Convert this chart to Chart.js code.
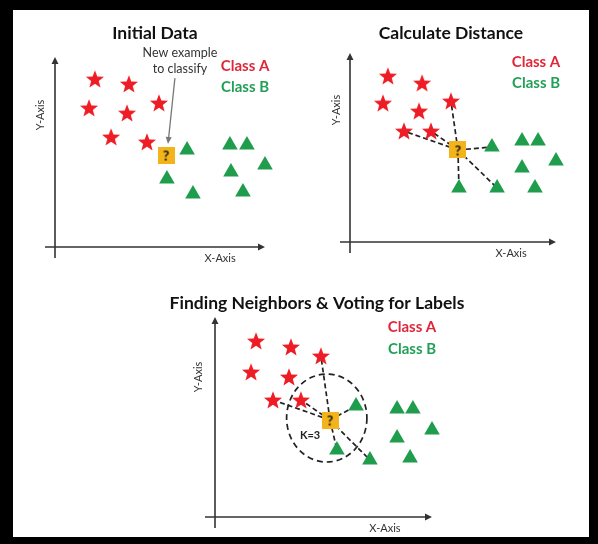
<!DOCTYPE html>
<html>
<head>
<meta charset="utf-8">
<script src="https://cdn.jsdelivr.net/npm/chart.js@4.4.0/dist/chart.umd.min.js"></script>
<style>
    body { margin: 0; background: #000; width: 598px; height: 544px; position: relative; overflow: hidden; }
    #sheet { position: absolute; left: 13px; top: 10px; width: 576px; height: 527px; background: #fff; }
    canvas { position: absolute; }
</style>
</head>
<body>
<div id="sheet">
    <canvas id="initialChart" width="285" height="265" style="left:0;top:0"></canvas>
    <canvas id="distanceChart" width="291" height="265" style="left:285px;top:0"></canvas>
    <canvas id="votingChart" width="576" height="262" style="left:0;top:265px"></canvas>
</div>
<script>
// Panel 1 - Initial Data (x, y on a 0..10 grid)
const initialStars = [[1.90, 8.84], [3.52, 8.58], [1.62, 7.32], [3.43, 7.05], [4.95, 7.58], [2.67, 5.79], [4.38, 5.53]];
const initialTriangles = [[6.29, 5.11], [5.33, 3.58], [6.57, 2.79], [8.33, 5.37], [9.14, 5.37], [10.0, 4.32], [8.38, 3.95], [8.95, 2.89]];
const initialNew = [5.29, 4.84];

// Panel 2 - Calculate Distance
const distanceStars = [[1.84, 8.78], [3.50, 8.41], [1.60, 7.35], [3.35, 6.93], [4.90, 7.46], [2.62, 5.87], [3.93, 5.87]];
const distanceTriangles = [[6.89, 5.03], [8.35, 5.34], [9.13, 5.34], [10.0, 4.29], [8.35, 3.92], [5.29, 2.86], [7.14, 2.86], [8.98, 2.86]];
const distanceNew = [5.24, 4.87];
const distanceStarLinks = [4, 5, 6];
const distanceTriangleLinks = [0, 5, 6];

// Panel 3 - Finding Neighbors & Voting for Labels
const votingStars = [[1.89, 8.80], [3.50, 8.50], [4.88, 8.05], [1.66, 7.25], [3.41, 7.00], [2.67, 5.85], [3.96, 5.85]];
const votingTriangles = [[6.50, 5.55], [8.39, 5.40], [9.12, 5.40], [10.0, 4.35], [8.39, 3.95], [5.62, 3.35], [7.14, 2.85], [8.99, 2.95]];
const votingNew = [5.30, 4.85];
const votingStarLinks = [2, 5, 6];
const votingTriangleLinks = [0, 5, 6];
const kValue = 3;

const classLabels = ["Class A", "Class B"];
const panelTitles = ["Initial Data", "Calculate Distance", "Finding Neighbors & Voting for Labels"];

const RED = "#ee1c24";
const GREEN = "#1f9d4c";
const TEXT_RED = "#e0263a";
const TEXT_GREEN = "#22a057";
const FONT = "Lato, 'Open Sans', sans-serif";

// marker images
function makeStar() {
    let c = document.createElement("canvas");
    c.width = 20; c.height = 20;
    let g = c.getContext("2d");
    g.fillStyle = RED;
    g.beginPath();
    for (let i = 0; i < 10; i++) {
        let r = i % 2 === 0 ? 9.5 : 4;
        let a = -Math.PI / 2 + i * Math.PI / 5;
        let px = 10 + r * Math.cos(a), py = 10.8 + r * Math.sin(a);
        if (i === 0) g.moveTo(px, py); else g.lineTo(px, py);
    }
    g.closePath();
    g.fill();
    return c;
}

function makeBox() {
    let c = document.createElement("canvas");
    c.width = 17; c.height = 17;
    let g = c.getContext("2d");
    g.fillStyle = "#f2b41a";
    g.fillRect(0, 0, 17, 17);
    g.fillStyle = "#111";
    g.font = "bold 14px " + FONT;
    g.textAlign = "center";
    g.textBaseline = "middle";
    g.fillText("?", 8.5, 9);
    return c;
}

const starImg = makeStar();
const boxImg = makeBox();

const toPts = arr => arr.map(p => ({ x: p[0], y: p[1] }));

function buildDatasets(stars, triangles, newPoint, starLinks, triLinks) {
    let ds = [
        { label: "new", data: toPts([newPoint]), pointStyle: boxImg, pointRadius: 8, order: 0, clip: false },
        { label: classLabels[0], data: toPts(stars), pointStyle: starImg, pointRadius: 8, order: 1, clip: false },
        { label: classLabels[1], data: toPts(triangles), pointStyle: "triangle", pointRadius: 9,
          backgroundColor: GREEN, borderColor: GREEN, borderWidth: 0, order: 1, clip: false }
    ];
    let targets = starLinks.map(i => stars[i]).concat(triLinks.map(i => triangles[i]));
    targets.forEach(t => {
        ds.push({ label: "link", data: toPts([newPoint, t]), showLine: true, pointRadius: 0,
                  borderColor: "#222", borderWidth: 1.7, borderDash: [5, 3], order: 2, clip: false });
    });
    return ds;
}

// axes with arrows, circle and texts
const decorPlugin = {
    id: "decor",
    beforeDatasetsDraw(chart, args, opts) {
        let ctx = chart.ctx, sx = chart.scales.x, sy = chart.scales.y;
        let x0 = sx.getPixelForValue(0), y0 = sy.getPixelForValue(0);
        let xEnd = sx.getPixelForValue(10), yTop = sy.getPixelForValue(10);
        ctx.save();
        ctx.strokeStyle = "#333";
        ctx.fillStyle = "#333";
        ctx.lineWidth = 1.6;
        ctx.beginPath();
        ctx.moveTo(x0, y0 + 11); ctx.lineTo(x0, yTop + 5);
        ctx.moveTo(x0 - 10, y0); ctx.lineTo(xEnd - 5, y0);
        ctx.stroke();
        ctx.beginPath();
        ctx.moveTo(x0, yTop); ctx.lineTo(x0 - 3.5, yTop + 7); ctx.lineTo(x0 + 3.5, yTop + 7); ctx.closePath();
        ctx.moveTo(xEnd, y0); ctx.lineTo(xEnd - 7, y0 - 3.5); ctx.lineTo(xEnd - 7, y0 + 3.5); ctx.closePath();
        ctx.fill();

        if (opts.circle) {
            let c = opts.circle;
            let cx = sx.getPixelForValue(c.x), cy = sy.getPixelForValue(c.y);
            let rx = sx.getPixelForValue(c.x + c.rx) - cx;
            let ry = cy - sy.getPixelForValue(c.y + c.ry);
            ctx.setLineDash([6, 4]);
            ctx.strokeStyle = "#222";
            ctx.lineWidth = 1.7;
            ctx.beginPath();
            ctx.ellipse(cx, cy, rx, ry, 0, 0, Math.PI * 2);
            ctx.stroke();
        }
        ctx.restore();
    },
    afterDatasetsDraw(chart, args, opts) {
        let ctx = chart.ctx, sx = chart.scales.x, sy = chart.scales.y;
        ctx.save();
        if (opts.pointer) {
            let p = opts.pointer;
            let ax = sx.getPixelForValue(p.from[0]), ay = sy.getPixelForValue(p.from[1]);
            let bx = sx.getPixelForValue(p.to[0]), by = sy.getPixelForValue(p.to[1]);
            let ang = Math.atan2(by - ay, bx - ax);
            ctx.strokeStyle = "#777";
            ctx.fillStyle = "#777";
            ctx.lineWidth = 1.3;
            ctx.beginPath();
            ctx.moveTo(ax, ay);
            ctx.lineTo(bx - 5 * Math.cos(ang), by - 5 * Math.sin(ang));
            ctx.stroke();
            ctx.beginPath();
            ctx.moveTo(bx, by);
            ctx.lineTo(bx - 7 * Math.cos(ang) + 3 * Math.sin(ang), by - 7 * Math.sin(ang) - 3 * Math.cos(ang));
            ctx.lineTo(bx - 7 * Math.cos(ang) - 3 * Math.sin(ang), by - 7 * Math.sin(ang) + 3 * Math.cos(ang));
            ctx.closePath();
            ctx.fill();
        }
        ctx.textAlign = "center";
        ctx.textBaseline = "middle";
        (opts.texts || []).forEach(t => {
            ctx.save();
            ctx.translate(sx.getPixelForValue(t.x), sy.getPixelForValue(t.y));
            if (t.rotate) ctx.rotate(t.rotate);
            ctx.font = t.font;
            ctx.fillStyle = t.color;
            ctx.fillText(t.text, 0, 0);
            ctx.restore();
        });
        ctx.restore();
    }
};

function commonTexts(title, titlePos, xLab, yLab, legendPos) {
    return [
        { text: title, x: titlePos[0], y: titlePos[1], font: "bold 17.5px " + FONT, color: "#111" },
        { text: "X-Axis", x: xLab[0], y: xLab[1], font: "11px " + FONT, color: "#333" },
        { text: "Y-Axis", x: yLab[0], y: yLab[1], font: "11px " + FONT, color: "#333", rotate: -Math.PI / 2 },
        { text: classLabels[0], x: legendPos[0], y: legendPos[1], font: "bold 15px " + FONT, color: TEXT_RED },
        { text: classLabels[1], x: legendPos[0], y: legendPos[1] - 1.1, font: "bold 15px " + FONT, color: TEXT_GREEN }
    ];
}

function makeChart(id, datasets, padding, decor) {
    return new Chart(document.getElementById(id).getContext("2d"), {
        type: "scatter",
        data: { datasets: datasets },
        options: {
            responsive: false,
            animation: false,
            events: [],
            layout: { padding: padding },
            scales: {
                x: { type: "linear", min: 0, max: 10, display: false },
                y: { type: "linear", min: 0, max: 10, display: false }
            },
            plugins: {
                legend: { display: false },
                tooltip: { enabled: false },
                decor: decor
            }
        },
        plugins: [decorPlugin]
    });
}

let initialTexts = commonTexts(panelTitles[0], [4.76, 11.26], [7.86, -0.58], [-0.71, 6.95], [9.05, 9.53]);
initialTexts.push({ text: "New example", x: 5.95, y: 10.21, font: "12.5px " + FONT, color: "#333" });
initialTexts.push({ text: "to classify", x: 5.95, y: 9.37, font: "12.5px " + FONT, color: "#333" });

makeChart("initialChart",
    buildDatasets(initialStars, initialTriangles, initialNew, [], []),
    { left: 42, top: 47, right: 33, bottom: 28 },
    { texts: initialTexts, pointer: { from: [5.71, 8.89], to: [5.38, 5.42] } });

makeChart("distanceChart",
    buildDatasets(distanceStars, distanceTriangles, distanceNew, distanceStarLinks, distanceTriangleLinks),
    { left: 52, top: 43, right: 33, bottom: 33 },
    { texts: commonTexts(panelTitles[1], [4.90, 11.06], [7.82, -0.58], [-0.68, 6.98], [9.03, 9.52]) });

let votingTexts = commonTexts(panelTitles[2], [4.70, 10.70], [7.83, -0.55], [-0.78, 7.0], [9.08, 9.5]);
votingTexts.push({ text: "K=" + kValue, x: 4.38, y: 4.1, font: "bold 11px " + FONT, color: "#222" });

makeChart("votingChart",
    buildDatasets(votingStars, votingTriangles, votingNew, votingStarLinks, votingTriangleLinks),
    { left: 202, top: 42, right: 157, bottom: 20 },
    { texts: votingTexts, circle: { x: 5.15, y: 4.95, rx: 1.85, ry: 2.2 } });
</script>
</body>
</html>
